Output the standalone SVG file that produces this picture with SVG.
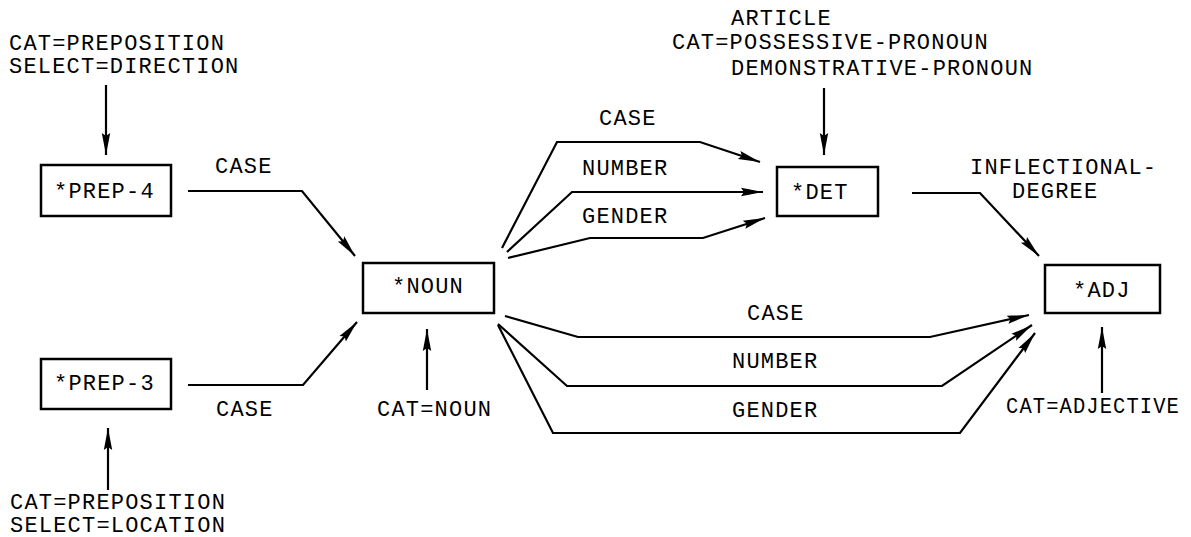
<svg xmlns="http://www.w3.org/2000/svg" width="1191" height="537" viewBox="0 0 1191 537">
  <style>
    text { font-family: "Liberation Mono", "DejaVu Sans Mono", monospace; font-size: 22px; letter-spacing: 1.2px; fill: #000; }
    .box { fill: #fff; stroke: #000; stroke-width: 2.5; }
    .edge { fill: none; stroke: #000; stroke-width: 2.2; stroke-linejoin: miter; marker-end: url(#head); }
  </style>
  <defs>
    <marker id="head" markerUnits="userSpaceOnUse" markerWidth="24" markerHeight="12" viewBox="-23 -6 24 12" refX="0" refY="0" orient="auto" overflow="visible">
      <path d="M0,0 L-22,-4.2 L-19,0 L-22,4.2 Z" fill="#000"/>
    </marker>
  </defs>

  <!-- feature annotations -->
  <g id="labels">
    <text x="9" y="50">CAT=PREPOSITION</text>
    <text x="9" y="73">SELECT=DIRECTION</text>
    <text x="215" y="173">CASE</text>
    <text x="216" y="416">CASE</text>
    <text x="10" y="509">CAT=PREPOSITION</text>
    <text x="10" y="532">SELECT=LOCATION</text>
    <text x="377" y="416">CAT=NOUN</text>
    <text x="731" y="25">ARTICLE</text>
    <text x="672" y="49">CAT=POSSESSIVE-PRONOUN</text>
    <text x="731" y="75">DEMONSTRATIVE-PRONOUN</text>
    <text x="599" y="125">CASE</text>
    <text x="582" y="175">NUMBER</text>
    <text x="582" y="223">GENDER</text>
    <text x="970" y="174">INFLECTIONAL-</text>
    <text x="1012" y="198">DEGREE</text>
    <text x="747" y="320">CASE</text>
    <text x="732" y="368">NUMBER</text>
    <text x="732" y="417">GENDER</text>
    <text x="1006" y="413" textLength="174" lengthAdjust="spacingAndGlyphs">CAT=ADJECTIVE</text>
  </g>

  <!-- connectors -->
  <g id="connectors">
    <path class="edge" d="M106,85 L106,155"/>
    <path class="edge" d="M188,191 L302,191 L355,256"/>
    <path class="edge" d="M188,385 L303,385 L357,322"/>
    <path class="edge" d="M108,490 L108,428"/>
    <path class="edge" d="M427,390 L427,329"/>
    <path class="edge" d="M502,248 L557,142 L700,142 L760,162"/>
    <path class="edge" d="M507,252 L572,192 L763,192"/>
    <path class="edge" d="M508,258 L590,238 L703,238 L765,218"/>
    <path class="edge" d="M824,88 L824,155"/>
    <path class="edge" d="M912,193 L980,193 L1039,256"/>
    <path class="edge" d="M505,316 L578,337 L930,337 L1029,315"/>
    <path class="edge" d="M498,324 L567,386 L942,386 L1032,325"/>
    <path class="edge" d="M498,325 L553,433 L960,433 L1035,333"/>
    <path class="edge" d="M1102,393 L1102,327"/>
  </g>

  <!-- nodes -->
  <g id="prep4">
    <rect class="box" x="41" y="165" width="130" height="51"/>
    <text x="54" y="198">*PREP-4</text>
  </g>
  <g id="prep3">
    <rect class="box" x="41" y="359" width="130" height="50"/>
    <text x="54" y="390">*PREP-3</text>
  </g>
  <g id="noun">
    <rect class="box" x="363" y="263" width="131" height="50"/>
    <text x="392" y="293">*NOUN</text>
  </g>
  <g id="det">
    <rect class="box" x="777" y="167" width="101" height="49"/>
    <text x="791" y="199">*DET</text>
  </g>
  <g id="adj">
    <rect class="box" x="1045" y="265" width="115" height="48"/>
    <text x="1073" y="297">*ADJ</text>
  </g>
</svg>
